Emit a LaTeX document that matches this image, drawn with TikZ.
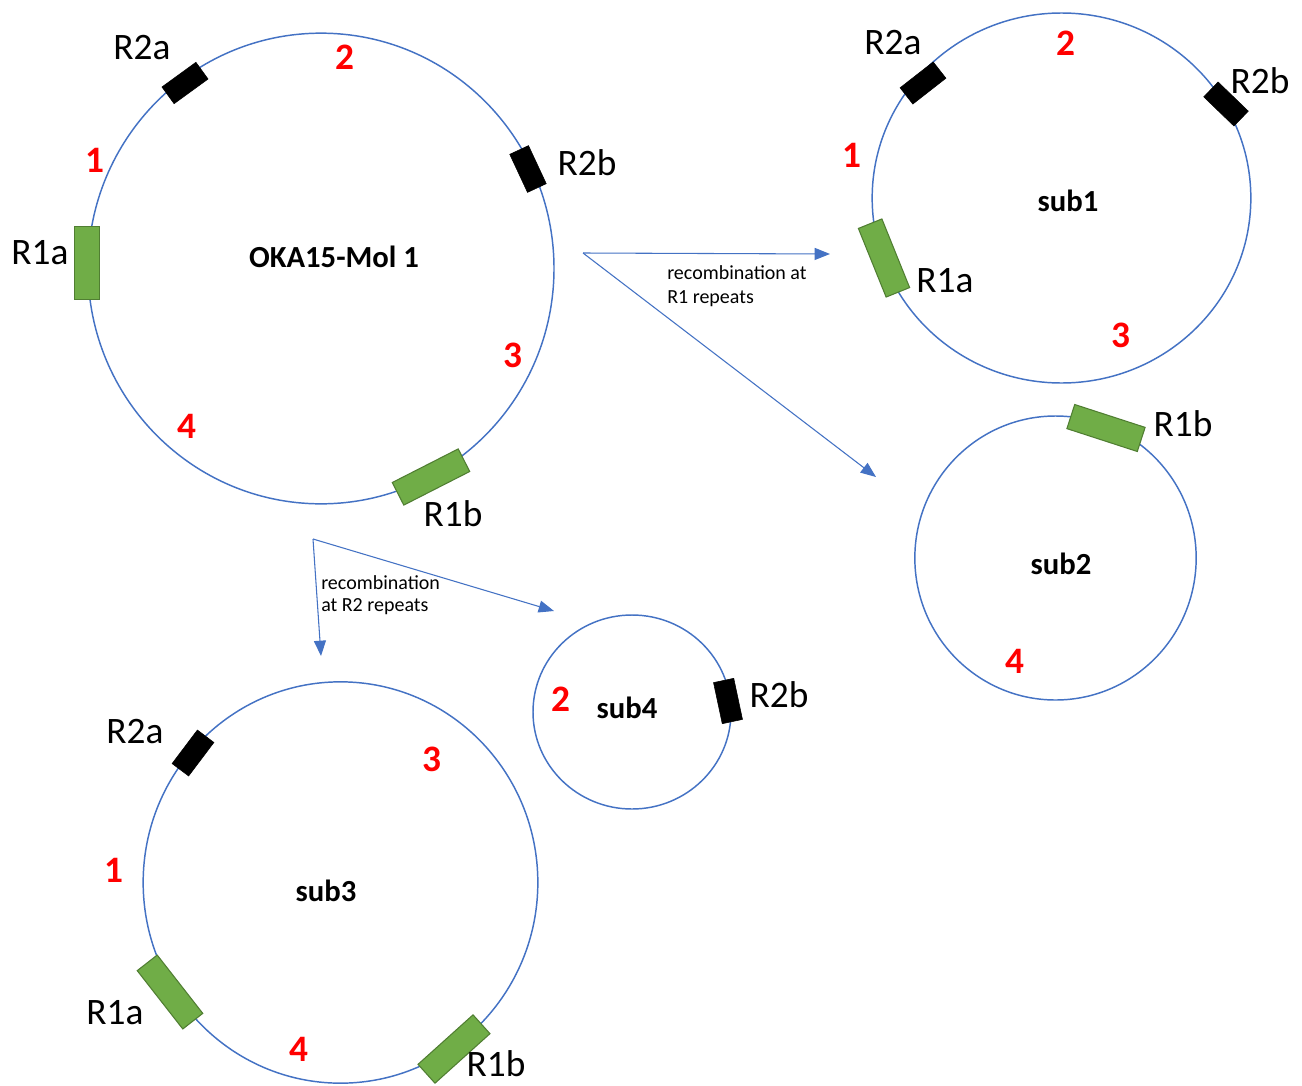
\documentclass[tikz,border=0pt]{standalone}
\usepackage{fontspec}
\setmainfont{Carlito}
\usetikzlibrary{shapes.geometric,arrows.meta}
\definecolor{cblue}{HTML}{4472C4}
\definecolor{cgreen}{HTML}{70AD47}
\definecolor{cgreenb}{HTML}{507E32}
\definecolor{cred}{HTML}{FF0000}
\tikzset{
  mol/.style={ellipse, draw=cblue, line width=1.1pt, inner sep=0pt},
  rblack/.style={rectangle, fill=black, draw=black, line width=0.4pt, minimum width=31.5pt, minimum height=15.5pt, inner sep=0pt},
  rgreen/.style={rectangle, fill=cgreen, draw=cgreenb, line width=0.8pt, minimum width=55.5pt, minimum height=19pt, inner sep=0pt},
  lbl/.style={font=\fontsize{28}{30}\selectfont, inner sep=0pt},
  num/.style={font=\fontsize{28}{30}\selectfont\bfseries, text=cred, inner sep=0pt},
  ttl/.style={font=\fontsize{23}{25}\selectfont\bfseries, inner sep=0pt},
  note/.style={font=\fontsize{15}{18}\selectfont, align=left, inner sep=0pt},
  arr/.style={draw=cblue, line width=0.8pt, -{Triangle[length=11.5pt,width=9pt]}}
}
\begin{document}
\begin{tikzpicture}[x=0.75pt,y=-0.75pt]
\useasboundingbox (0,0) rectangle (1302,1085);
\fill[white] (0,0) rectangle (1302,1085);

% ---------- main molecule ----------
\node[mol, minimum width=349.5pt, minimum height=353pt] (mol) at (321,268.5) {};
\node[rgreen, rotate=90, minimum width=55pt] (m-r1a) at (87,263) {};
\node[rblack, rotate=36] (m-r2a) at (185,83) {};
\node[rblack, rotate=115] (m-r2b) at (528,169) {};
\node[rgreen, rotate=27] (m-r1b) at (431,477) {};
\node[lbl] (m-l-r2a) at (142,48) {R2a};
\node[lbl] (m-l-r2b) at (587,163) {R2b};
\node[lbl] (m-l-r1a) at (40,253) {R1a};
\node[lbl] (m-l-r1b) at (453,514) {R1b};
\node[num] (m-n1) at (95,160) {1};
\node[num] (m-n2) at (345,57) {2};
\node[num] (m-n3) at (513,355) {3};
\node[num] (m-n4) at (187,426) {4};
\node[ttl] (m-t) at (334,257) {OKA15-Mol 1};

% ---------- sub1 ----------
\node[mol, minimum width=284pt, minimum height=277.5pt] (s1) at (1061.5,198) {};
\node[rblack, rotate=38] (s1-r2a) at (923,83) {};
\node[rblack, rotate=136] (s1-r2b) at (1226,104) {};
\node[rgreen, rotate=112] (s1-r1a) at (884,258) {};
\node[lbl] (s1-l-r2a) at (893,43) {R2a};
\node[lbl] (s1-l-r2b) at (1260,81) {R2b};
\node[lbl] (s1-l-r1a) at (945,281) {R1a};
\node[num] (s1-n1) at (852,155) {1};
\node[num] (s1-n2) at (1066,43) {2};
\node[num] (s1-n3) at (1121,335) {3};
\node[ttl] (s1-t) at (1068,201) {sub1};

% ---------- sub2 ----------
\node[mol, minimum width=211pt, minimum height=213pt] (s2) at (1055.5,558) {};
\node[rgreen, rotate=-18] (s2-r1b) at (1106,428) {};
\node[lbl] (s2-l-r1b) at (1183,424) {R1b};
\node[num] (s2-n4) at (1015,661) {4};
\node[ttl] (s2-t) at (1061,564) {sub2};

% ---------- sub3 ----------
\node[mol, minimum width=296pt, minimum height=301pt] (s3) at (340.5,882.5) {};
\node[rblack, rotate=53] (s3-r2a) at (193,753) {};
\node[rgreen, rotate=128] (s3-r1a) at (170,992) {};
\node[rgreen, rotate=42] (s3-r1b) at (454,1049) {};
\node[lbl] (s3-l-r2a) at (135,732) {R2a};
\node[lbl] (s3-l-r1a) at (115,1013) {R1a};
\node[lbl] (s3-l-r1b) at (496,1064) {R1b};
\node[num] (s3-n1) at (114,870) {1};
\node[num] (s3-n3) at (432,759) {3};
\node[num] (s3-n4) at (299,1049) {4};
\node[ttl] (s3-t) at (326,891) {sub3};

% ---------- sub4 ----------
\node[mol, minimum width=148.5pt, minimum height=145.5pt] (s4) at (632,712) {};
\node[rblack, rotate=102] (s4-r2b) at (728,701) {};
\node[lbl] (s4-l-r2b) at (779,695) {R2b};
\node[num] (s4-n2) at (561,699) {2};
\node[ttl] (s4-t) at (627,708) {sub4};

% ---------- arrows ----------
\coordinate (a1) at (583,253);
\coordinate (a1t) at (830,254);
\coordinate (a2t) at (876,477);
\draw[arr] (a1) -- (a1t);
\draw[arr] (a1) -- (a2t);
\node[note, anchor=base west] (n1) at (667,303) {recombination at\\R1 repeats};

\coordinate (b1) at (313,539);
\coordinate (b1t) at (321,656);
\coordinate (b2t) at (554,611);
\draw[arr] (b1) -- (b1t);
\draw[arr] (b1) -- (b2t);
\node[note, anchor=base west, font=\fontsize{15}{16.5}\selectfont] (n2) at (321,611) {recombination\\at R2 repeats};
\end{tikzpicture}
\end{document}
